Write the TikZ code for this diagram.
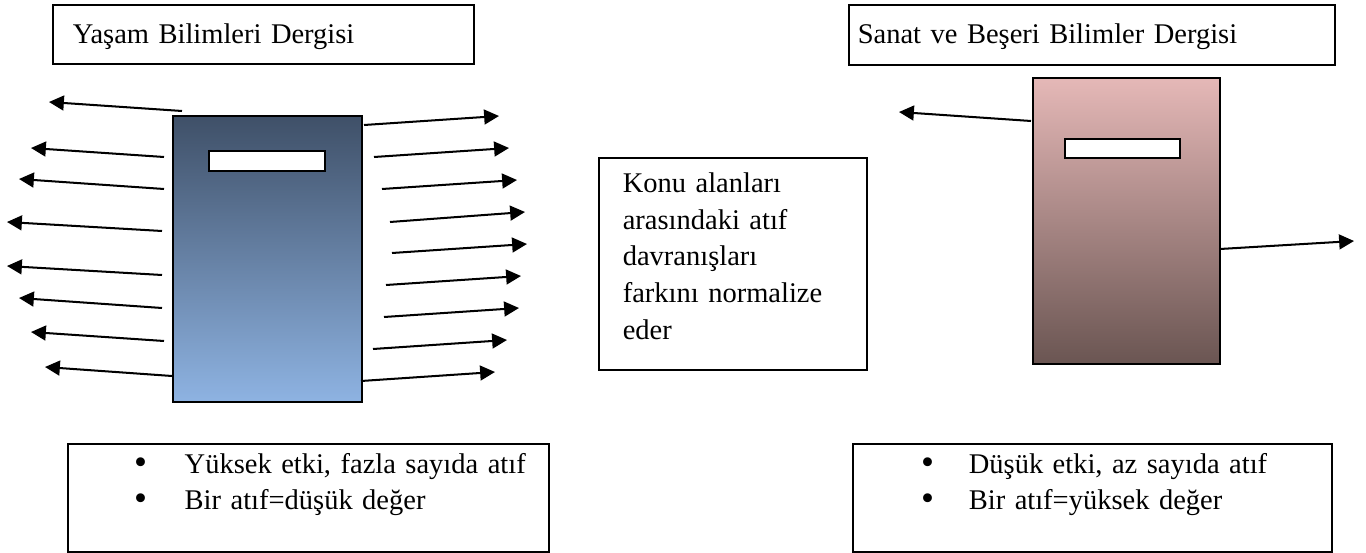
\documentclass[tikz,border=0pt]{standalone}
\usepackage{fontspec}
\setmainfont{Liberation Serif}
\usetikzlibrary{arrows.meta}
\definecolor{yasamust}{RGB}{63,80,104}
\definecolor{yasamalt}{RGB}{142,179,226}
\definecolor{sanatust}{RGB}{229,184,183}
\definecolor{sanatorta}{RGB}{194,156,155}
\definecolor{sanatalt}{RGB}{106,85,82}
\newcommand{\madde}{\raisebox{-0.4pt}{\scalebox{1.3}{\textbullet}}}
\begin{document}
\begin{tikzpicture}[
      x=0.0148cm, y=-0.0148cm,
      kutu/.style={draw, line width=0.7pt, anchor=north west, inner ysep=0pt,
        align=left, font=\fontsize{12}{15.1}\selectfont},
      dergi/.style={draw, line width=1pt, anchor=north west, inner sep=0pt},
      yuva/.style={draw, fill=white, line width=1pt, anchor=north west,
        inner sep=0pt},
      atif/.style={line width=0.85pt,
        -{Triangle[length=0.22cm,width=0.22cm]}}
    ]
    \useasboundingbox (0,0) rectangle (1366,553);
    % baslik kutulari
    \node[kutu, inner xsep=0.296cm, text width=5.639cm,
      text height=0.577cm, text depth=0.296cm] (ybaslik) at (52,4)
      {Yaşam Bilimleri Dergisi};
    \node[kutu, inner xsep=0.133cm, text width=6.926cm,
      text height=0.577cm, text depth=0.311cm] (sbaslik) at (848,4)
      {Sanat ve Beşeri Bilimler Dergisi};
    % dergiler
    \node[dergi, minimum width=2.797cm, minimum height=4.233cm,
      top color=yasamust, bottom color=yasamalt] (yasam) at (172,115) {};
    \node[yuva, minimum width=1.717cm, minimum height=0.296cm]
      (yyuva) at (208,150) {};
    \node[dergi, minimum width=2.768cm, minimum height=4.233cm,
      top color=sanatust, middle color=sanatorta, bottom color=sanatalt]
      (sanat) at (1032,77) {};
    \node[yuva, minimum width=1.702cm, minimum height=0.281cm]
      (syuva) at (1064,138) {};
    % orta kutu
    \node[kutu, inner xsep=0.355cm, text width=3.256cm,
      font=\fontsize{12}{15.4}\selectfont,
      text height=0.518cm, text depth=2.62cm] (orta) at (598,157)
      {Konu alanları\\ arasındaki atıf\\ davranışları\\
       farkını normalize\\ eder};
    % alt kutular
    \node[kutu, inner xsep=0pt, text width=7.119cm,
      text height=0.437cm, text depth=1.162cm] (yalt) at (67,443)
      {\hspace*{0.98cm}\makebox[0.75cm][l]{\madde}Yüksek etki, fazla sayıda atıf\\
       \hspace*{0.98cm}\makebox[0.75cm][l]{\madde}Bir atıf=düşük değer};
    \node[kutu, inner xsep=0pt, text width=7.089cm,
      text height=0.437cm, text depth=1.162cm] (salt) at (852,443)
      {\hspace*{1.01cm}\makebox[0.707cm][l]{\madde}Düşük etki, az sayıda atıf\\
       \hspace*{1.01cm}\makebox[0.707cm][l]{\madde}Bir atıf=yüksek değer};
    % atiflar
    \foreach \k/\tx/\ty/\hx/\hy in {1/182/111/49/102, 2/164/157/31/148,
        3/164/189/19/179, 4/162/231/7/222, 5/162/275/7/266,
        6/162/308/19/298, 7/164/341/31/332, 8/172/376/45/367}{
      \coordinate (sol\k) at (\tx,\ty);
      \coordinate (soluc\k) at (\hx,\hy);
      \draw[atif] (sol\k) -- (soluc\k);
    }
    \foreach \k/\tx/\ty/\hx/\hy in {1/364/125/499/116, 2/374/157/509/148,
        3/382/189/517/180, 4/390/222/525/212, 5/392/253/527/244,
        6/386/285/521/276, 7/384/317/519/308, 8/373/349/507/340,
        9/361/381/495/372}{
      \coordinate (sag\k) at (\tx,\ty);
      \coordinate (saguc\k) at (\hx,\hy);
      \draw[atif] (sag\k) -- (saguc\k);
    }
    \coordinate (ssol) at (1031,121);
    \coordinate (ssoluc) at (899,112);
    \coordinate (ssag) at (1220,249);
    \coordinate (ssaguc) at (1354,241);
    \draw[atif] (ssol) -- (ssoluc);
    \draw[atif] (ssag) -- (ssaguc);
  \end{tikzpicture}
\end{document}
